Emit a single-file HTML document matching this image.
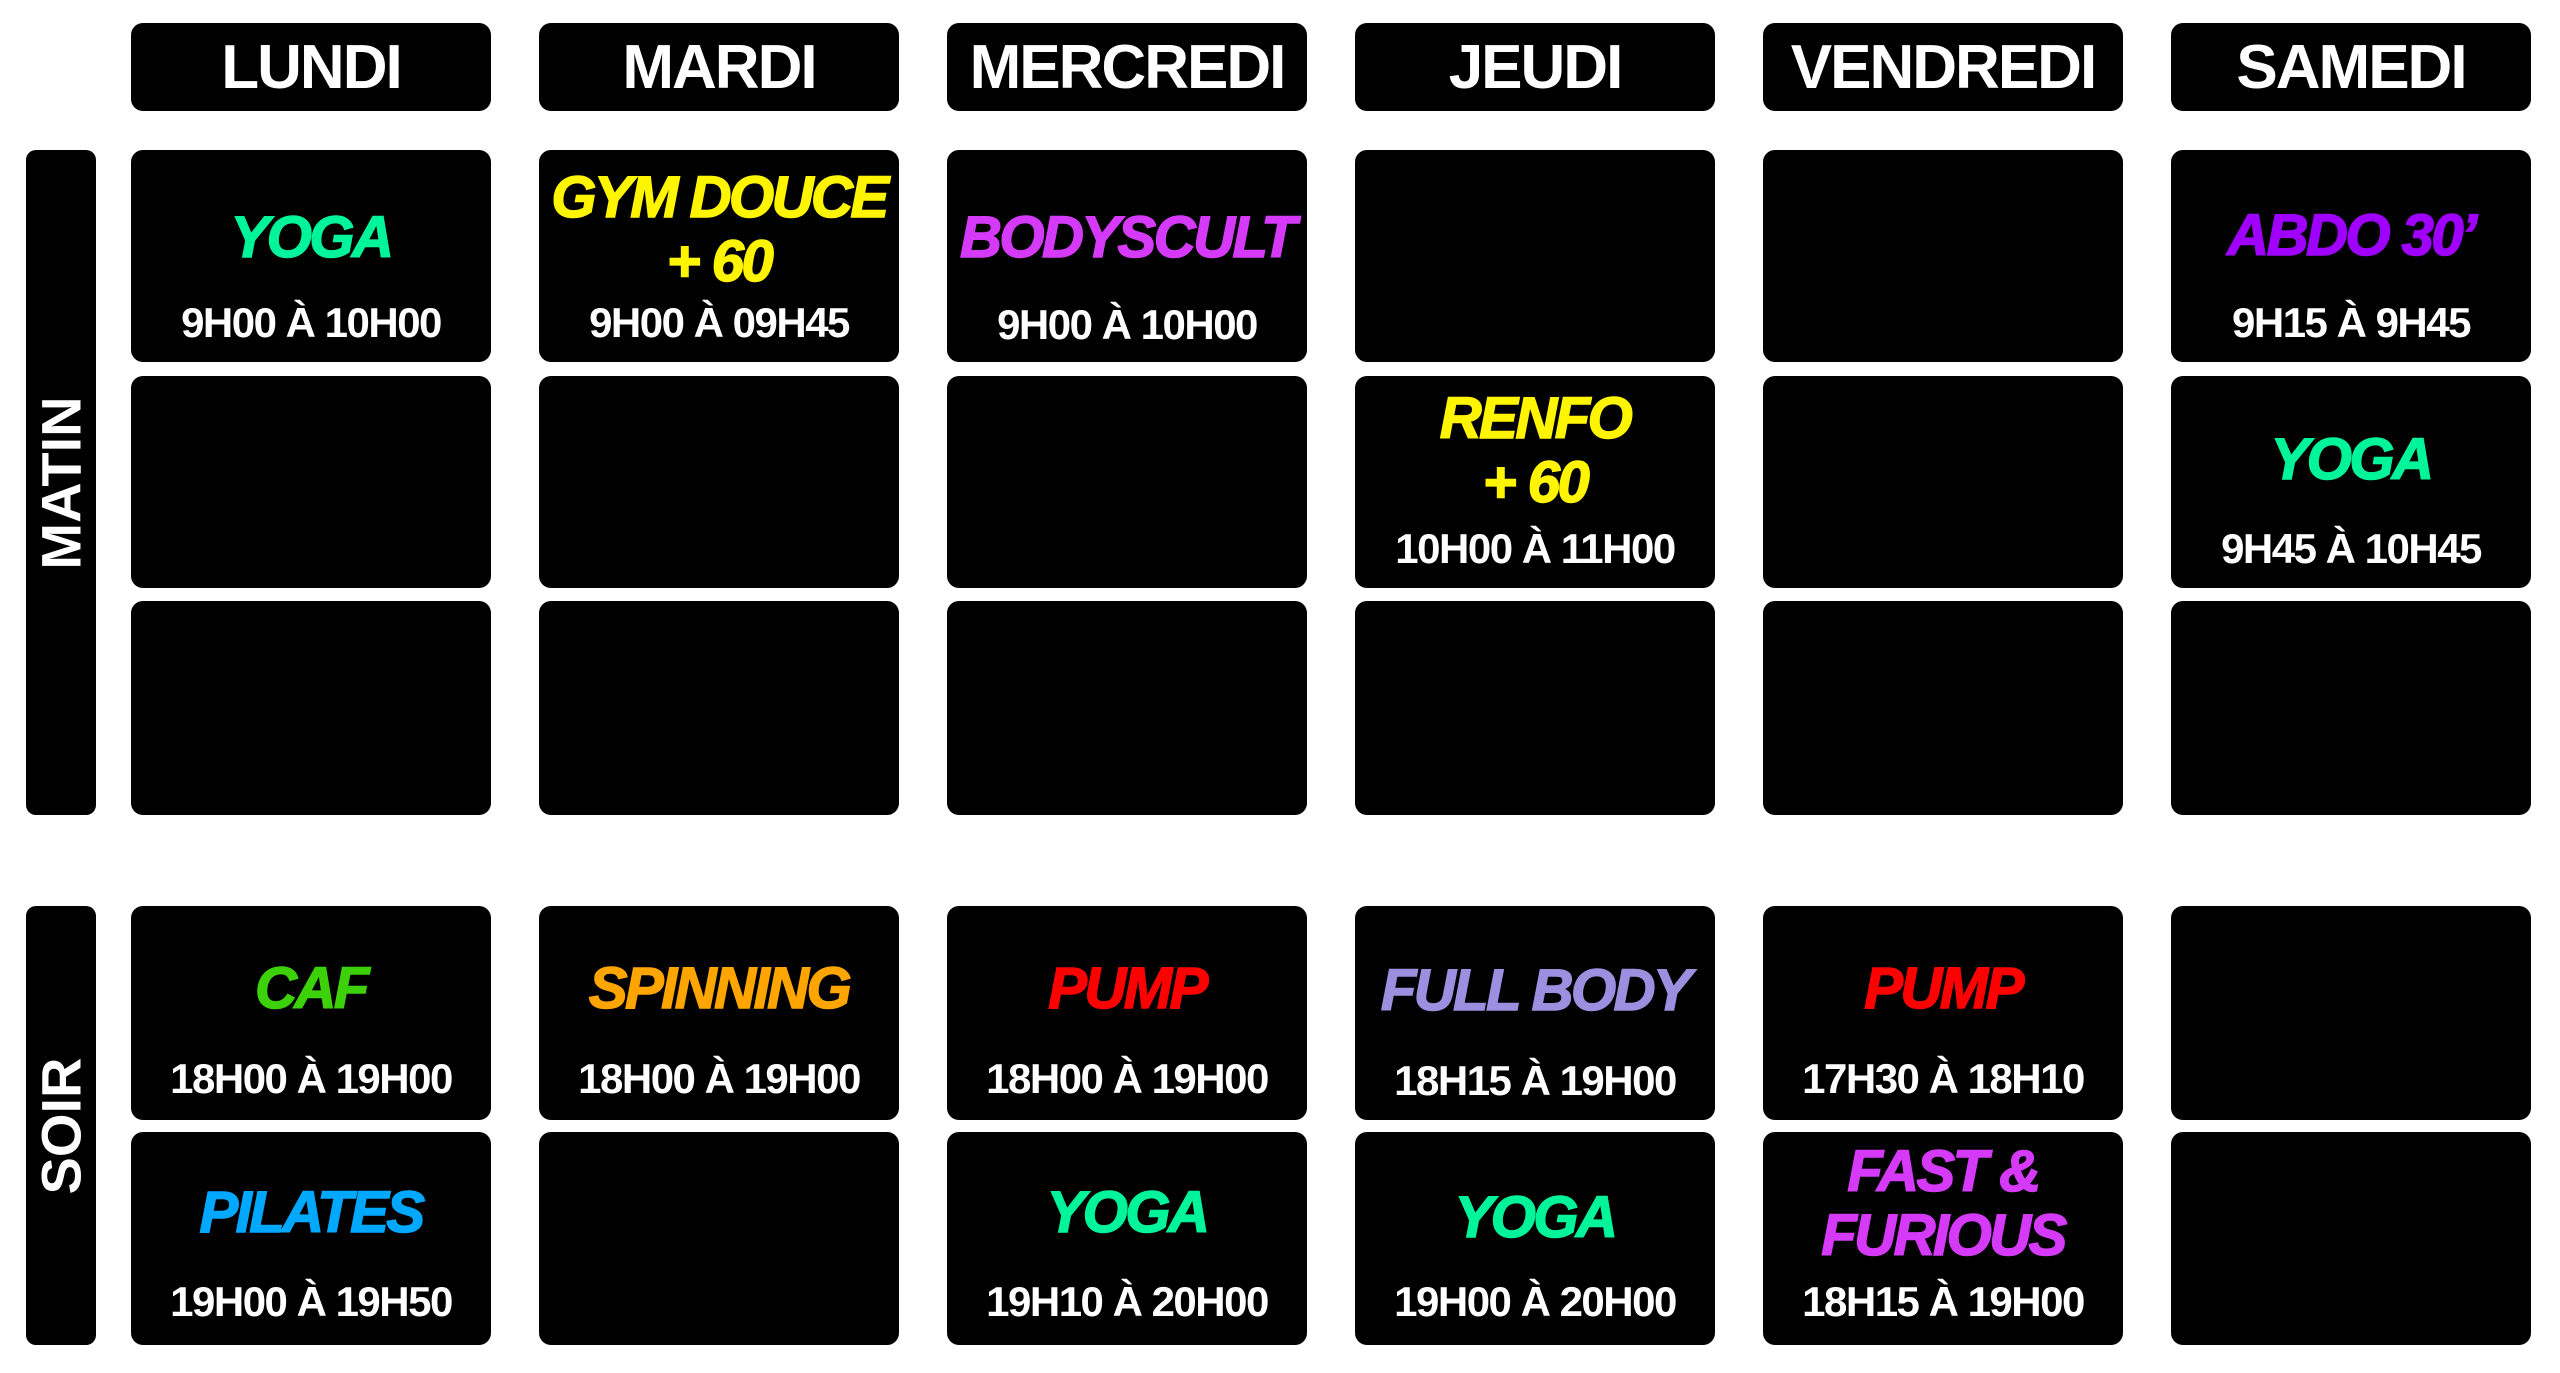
<!DOCTYPE html>
<html><head><meta charset="utf-8"><style>
html,body{margin:0;padding:0;background:#fff;}
body{width:2560px;height:1373px;position:relative;overflow:hidden;font-family:"Liberation Sans",sans-serif;}
.b{position:absolute;background:#000;border-radius:12px;width:360px;}
.h{top:23px;height:88px;color:#fff;font-weight:bold;font-size:62px;letter-spacing:-2px;display:flex;align-items:center;justify-content:center;}
.r1{top:150px;height:212px}.r2{top:376px;height:212px}.r3{top:601px;height:214px}
.e1{top:906px;height:214px}.e2{top:1132px;height:213px}
.l{position:absolute;left:0;right:0;height:0;display:flex;align-items:center;justify-content:center;white-space:nowrap;}
.t{font-weight:bold;font-style:italic;font-size:58px;letter-spacing:-2.5px;-webkit-text-stroke:1.5px currentColor;}
.tm{color:#fff;font-weight:bold;font-size:42px;letter-spacing:-1.5px;}
.side{position:absolute;left:26px;width:70px;background:#000;border-radius:10px;}
.side span{position:absolute;left:50%;top:50%;transform:translate(-50%,-50%) rotate(-90deg);color:#fff;font-weight:bold;font-size:56px;white-space:nowrap;}
</style></head><body>
<div class="b h" style="left:131px">LUNDI</div>
<div class="b h" style="left:539px">MARDI</div>
<div class="b h" style="left:947px">MERCREDI</div>
<div class="b h" style="left:1355px">JEUDI</div>
<div class="b h" style="left:1763px">VENDREDI</div>
<div class="b h" style="left:2171px">SAMEDI</div>

<div class="side" style="top:150px;height:665px"><span>MATIN</span></div>
<div class="side" style="top:906px;height:439px"><span>SOIR</span></div>

<!-- Lundi -->
<div class="b r1" style="left:131px"><div class="l t" style="top:87px;color:#00F59B">YOGA</div><div class="l tm" style="top:173px">9H00 À 10H00</div></div>
<div class="b r2" style="left:131px"></div><div class="b r3" style="left:131px"></div>
<div class="b e1" style="left:131px"><div class="l t" style="top:82px;color:#3DD10A">CAF</div><div class="l tm" style="top:173px">18H00 À 19H00</div></div>
<div class="b e2" style="left:131px"><div class="l t" style="top:80px;color:#00A8FF">PILATES</div><div class="l tm" style="top:170px">19H00 À 19H50</div></div>

<!-- Mardi -->
<div class="b r1" style="left:539px"><div class="l t" style="top:47px;color:#FFF500">GYM DOUCE</div><div class="l t" style="top:111px;color:#FFF500">+ 60</div><div class="l tm" style="top:173px">9H00 À 09H45</div></div>
<div class="b r2" style="left:539px"></div><div class="b r3" style="left:539px"></div>
<div class="b e1" style="left:539px"><div class="l t" style="top:82px;color:#FFA500">SPINNING</div><div class="l tm" style="top:173px">18H00 À 19H00</div></div>
<div class="b e2" style="left:539px"></div>

<!-- Mercredi -->
<div class="b r1" style="left:947px"><div class="l t" style="top:87px;color:#D63AF9">BODYSCULT</div><div class="l tm" style="top:175px">9H00 À 10H00</div></div>
<div class="b r2" style="left:947px"></div><div class="b r3" style="left:947px"></div>
<div class="b e1" style="left:947px"><div class="l t" style="top:82px;color:#FF0000">PUMP</div><div class="l tm" style="top:173px">18H00 À 19H00</div></div>
<div class="b e2" style="left:947px"><div class="l t" style="top:80px;color:#00F59B">YOGA</div><div class="l tm" style="top:170px">19H10 À 20H00</div></div>

<!-- Jeudi -->
<div class="b r1" style="left:1355px"></div>
<div class="b r2" style="left:1355px"><div class="l t" style="top:42px;color:#FFF500">RENFO</div><div class="l t" style="top:106px;color:#FFF500">+ 60</div><div class="l tm" style="top:173px">10H00 À 11H00</div></div>
<div class="b r3" style="left:1355px"></div>
<div class="b e1" style="left:1355px"><div class="l t" style="top:84px;color:#9C8FE0">FULL BODY</div><div class="l tm" style="top:175px">18H15 À 19H00</div></div>
<div class="b e2" style="left:1355px"><div class="l t" style="top:85px;color:#00F59B">YOGA</div><div class="l tm" style="top:170px">19H00 À 20H00</div></div>

<!-- Vendredi -->
<div class="b r1" style="left:1763px"></div><div class="b r2" style="left:1763px"></div><div class="b r3" style="left:1763px"></div>
<div class="b e1" style="left:1763px"><div class="l t" style="top:82px;color:#FF0000">PUMP</div><div class="l tm" style="top:173px">17H30 À 18H10</div></div>
<div class="b e2" style="left:1763px"><div class="l t" style="top:39px;color:#D63AF9">FAST &amp;</div><div class="l t" style="top:103px;color:#D63AF9">FURIOUS</div><div class="l tm" style="top:170px">18H15 À 19H00</div></div>

<!-- Samedi -->
<div class="b r1" style="left:2171px"><div class="l t" style="top:85px;color:#A000FF">ABDO 30’</div><div class="l tm" style="top:173px">9H15 À 9H45</div></div>
<div class="b r2" style="left:2171px"><div class="l t" style="top:83px;color:#00F59B">YOGA</div><div class="l tm" style="top:173px">9H45 À 10H45</div></div>
<div class="b r3" style="left:2171px"></div>
<div class="b e1" style="left:2171px"></div><div class="b e2" style="left:2171px"></div>
</body></html>
